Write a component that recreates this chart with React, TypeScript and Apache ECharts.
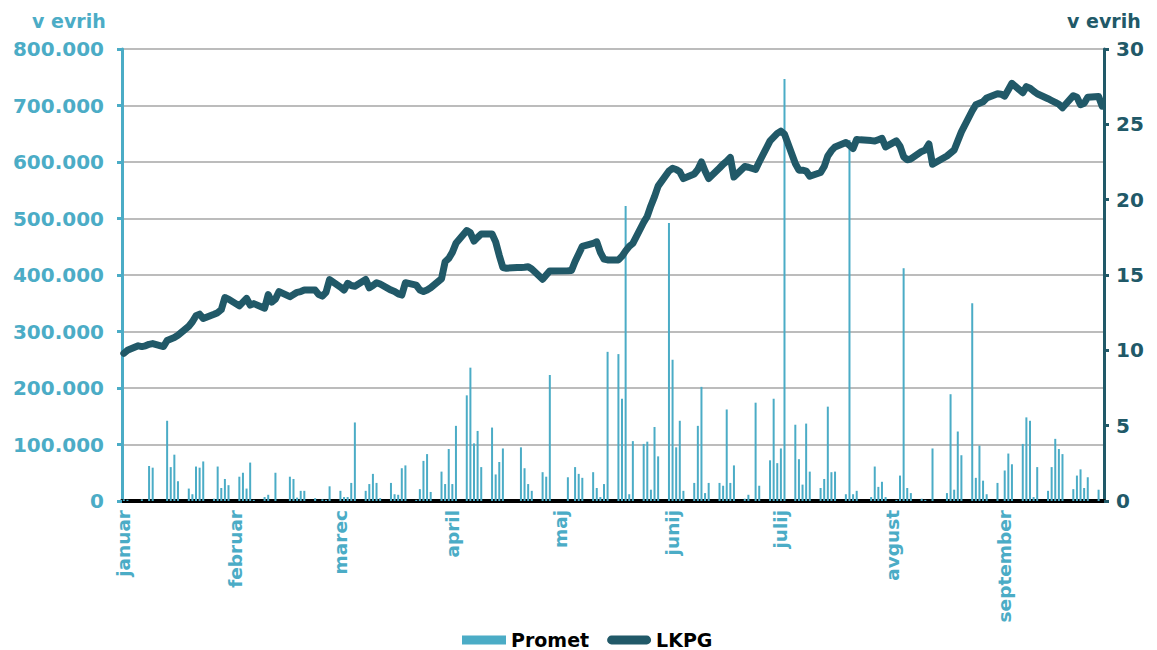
import React, { useEffect, useRef } from "react";
import * as echarts from "echarts";

const FONT = "'DejaVu Sans', Verdana, sans-serif";
const CYAN = "#4BACC6";
const DARK = "#215968";

const monthNames = ["januar", "februar", "marec", "april", "maj", "junij", "julij", "avgust", "september"];

// Promet (v tisoč evrov), po delovnih dneh (pon–pet) vsakega meseca, od 3. januarja dalje
const prometJan = [3, 2, 0, 3, 0, 62, 59, 0, 142, 60, 82, 35, 22, 12, 61, 59, 70, 4, 61, 23, 39];
const prometFeb = [28, 43, 50, 22, 68, 2, 7, 11, 0, 50, 0, 43, 39, 6, 18, 18, 5, 0, 3, 2, 26];
const prometMar = [18, 7, 7, 32, 139, 18, 30, 48, 32, 5, 32, 12, 11, 58, 63, 2, 21, 71, 83, 16, 52];
const prometApr = [30, 92, 30, 133, 187, 236, 102, 124, 60, 130, 47, 69, 93, 0, 0, 95, 58, 30, 18, 51, 43, 223];
const prometMaj = [0, 0, 42, 0, 60, 48, 41, 51, 23, 7, 30, 264, 260, 181, 522, 12, 106, 101, 105, 20, 131, 79];
const prometJun = [492, 250, 95, 142, 18, 32, 133, 202, 14, 32, 32, 27, 162, 32, 63, 4, 11, 0, 174, 27, 72];
const prometJul = [181, 67, 93, 747, 135, 74, 29, 137, 52, 23, 39, 167, 51, 52, 12, 639, 12, 18, 0, 7, 61, 25, 34];
const prometAvg = [7, 2, 45, 412, 23, 14, 4, 2, 0, 93, 0, 14, 189, 20, 123, 81, 350, 41, 98, 36, 12];
const prometSep = [32, 0, 54, 84, 65, 101, 148, 142, 7, 60, 18, 60, 110, 92, 83, 21, 45, 56, 23, 42, 20, 0];

// LKPG (v evrih)
const lkpgJan = [9.8, 10.0, 10.3, 10.25, 10.3, 10.4, 10.45, 10.25, 10.65, 10.75, 10.85, 11.0, 11.6, 11.9, 12.3, 12.4, 12.12, 12.4, 12.5, 12.7, 13.5];
const lkpgFeb = [13.4, 12.95, 13.2, 13.45, 13.0, 13.1, 12.8, 13.7, 13.2, 13.4, 13.9, 13.56, 13.7, 13.85, 13.9, 14.0, 14.0, 13.7, 13.6, 13.85, 14.7];
const lkpgMar = [14.2, 14.0, 14.45, 14.3, 14.25, 14.7, 14.15, 14.3, 14.49, 14.4, 14.0, 13.9, 13.75, 13.67, 14.49, 14.33, 14.0, 13.9, 14.0, 14.15, 14.75];
const lkpgApr = [15.88, 16.1, 16.5, 17.1, 17.95, 17.8, 17.25, 17.5, 17.72, 17.72, 17.2, 16.3, 15.5, 15.45, 15.5, 15.5, 15.52, 15.55, 15.4, 14.72, 15.0, 15.27];
const lkpgMaj = [null, null, 15.28, 15.3, 15.9, 16.4, 16.9, 17.1, 17.2, 16.5, 16.05, 16.0, 16.0, 16.25, 16.6, 16.9, 17.1, 18.5, 18.9, 19.6, 20.2, 20.9];
const lkpgJun = [21.9, 22.08, 22.0, 21.85, 21.4, 21.7, 22.0, 22.5, 21.9, 21.4, 22.1, 22.35, 22.55, 22.8, 21.5, 22.2, 22.15, null, 22.0, 22.5, 23.9];
const lkpgJul = [24.15, 24.4, 24.55, 24.35, 22.4, 21.96, 21.96, 21.9, 21.55, 21.8, 22.2, 22.9, 23.25, 23.5, 23.8, 23.6, 23.4, 24.0, 23.97, 23.92, 23.89, 23.98, 24.07];
const lkpgAvg = [23.5, 23.9, 23.55, 22.85, 22.65, 22.7, 23.2, 23.29, 23.7, 22.35, null, 22.9, 23.1, 23.3, 23.9, 24.5, 25.9, 26.3, 26.4, 26.5, 26.75];
const lkpgSep = [27.03, 27.0, 26.87, 27.3, 27.72, 27.1, 27.5, 27.4, 27.2, 27.03, 26.7, 26.58, 26.46, 26.33, 26.1, 26.9, 26.8, 26.3, 26.4, 26.8, 26.85, 26.2];

const leftTicks = [0, 100000, 200000, 300000, 400000, 500000, 600000, 700000, 800000];
const rightTicks = [0, 5, 10, 15, 20, 25, 30];

function buildData() {
  const promet = [prometJan, prometFeb, prometMar, prometApr, prometMaj, prometJun, prometJul, prometAvg, prometSep];
  const lkpg = [lkpgJan, lkpgFeb, lkpgMar, lkpgApr, lkpgMaj, lkpgJun, lkpgJul, lkpgAvg, lkpgSep];
  const cats: string[] = [];
  const bars: (number | null)[] = [];
  const line: (number | null)[] = [];
  const labelIdx = new Set<number>();
  const cursor = new Array(9).fill(0);
  const d = new Date(2008, 0, 3, 12);
  const end = new Date(2008, 8, 30, 12);
  let i = 0;
  while (d.getTime() <= end.getTime()) {
    const m = d.getMonth();
    const wd = d.getDay();
    cats.push(`${d.getFullYear()}-${m + 1}-${d.getDate()}`);
    if (d.getDate() === 3) labelIdx.add(i);
    if (wd !== 0 && wd !== 6) {
      const k = cursor[m]++;
      const p = promet[m][k];
      bars.push(p ? p * 1000 : null);
      const l = lkpg[m][k];
      line.push(l === undefined ? null : l);
    } else {
      bars.push(null);
      line.push(null);
    }
    d.setDate(d.getDate() + 1);
    i++;
  }
  return { cats, bars, line, labelIdx };
}

function fmtThousands(v: number) {
  if (v === 0) return "0";
  const s = String(Math.round(v));
  return s.replace(/\B(?=(\d{3})+(?!\d))/g, ".");
}

export default function App() {
  const ref = useRef<HTMLDivElement>(null);
  useEffect(() => {
    if (!ref.current) return;
    const chart = echarts.init(ref.current, null, { renderer: "svg" });
    const { cats, bars, line, labelIdx } = buildData();
    chart.setOption({
      animation: false,
      backgroundColor: "#ffffff",
      grid: { left: 122, right: 53, top: 49, bottom: 149, containLabel: false },
      legend: {
        left: 462,
        top: 630,
        padding: 0,
        itemWidth: 44,
        itemHeight: 9,
        itemGap: 18,
        textStyle: { color: "#000", fontWeight: "bold", fontSize: 19, lineHeight: 20, fontFamily: FONT },
        data: [
          { name: "Promet", icon: "rect" },
          { name: "LKPG", icon: "path://M5,0 L45,0 A5,5 0 0 1 45,10 L5,10 A5,5 0 0 1 5,0 Z" },
        ],
      },
      graphic: [
        {
          type: "text",
          left: 32,
          top: 11,
          style: { text: "v evrih", fill: CYAN, font: `bold 19px ${FONT}` },
        },
        {
          type: "text",
          left: 1067,
          top: 11,
          style: { text: "v evrih", fill: DARK, font: `bold 19px ${FONT}` },
        },
      ],
      xAxis: {
        type: "category",
        data: cats,
        boundaryGap: true,
        axisLine: { show: true, lineStyle: { color: "#000", width: 4 } },
        axisTick: { show: false },
        splitLine: { show: false },
        axisLabel: {
          interval: (index: number) => labelIdx.has(index),
          rotate: 90,
          margin: 9,
          color: CYAN,
          fontWeight: "bold",
          fontSize: 18.5,
          fontFamily: FONT,
          formatter: (v: string) => monthNames[parseInt(v.split("-")[1], 10) - 1],
        },
      },
      yAxis: [
        {
          type: "value",
          position: "left",
          min: leftTicks[0],
          max: leftTicks[leftTicks.length - 1],
          interval: 100000,
          axisLine: { show: true, lineStyle: { color: CYAN, width: 3 } },
          axisTick: { show: true, length: 5, lineStyle: { color: CYAN, width: 3 } },
          axisLabel: {
            margin: 18,
            color: CYAN,
            fontWeight: "bold",
            fontSize: 20,
            fontFamily: FONT,
            formatter: (v: number) => fmtThousands(v),
          },
          splitLine: { show: true, lineStyle: { color: "#A6A6A6", width: 1.5 } },
        },
        {
          type: "value",
          position: "right",
          min: rightTicks[0],
          max: rightTicks[rightTicks.length - 1],
          interval: 5,
          axisLine: { show: true, lineStyle: { color: DARK, width: 3 } },
          axisTick: { show: true, length: 5, lineStyle: { color: DARK, width: 3 } },
          axisLabel: {
            margin: 12,
            color: DARK,
            fontWeight: "bold",
            fontSize: 20,
            fontFamily: FONT,
          },
          splitLine: { show: false },
        },
      ],
      series: [
        {
          name: "Promet",
          type: "bar",
          yAxisIndex: 0,
          data: bars,
          barWidth: 2,
          itemStyle: { color: CYAN },
        },
        {
          name: "LKPG",
          type: "line",
          yAxisIndex: 1,
          data: line,
          connectNulls: true,
          symbol: "none",
          showSymbol: false,
          lineStyle: { color: DARK, width: 7, cap: "round", join: "round" },
          itemStyle: { color: DARK },
          z: 3,
        },
      ],
    });
    return () => chart.dispose();
  }, []);
  return (
    <div
      ref={ref}
      style={{ position: "absolute", left: 0, top: 0, width: 1157, height: 650 }}
    />
  );
}
